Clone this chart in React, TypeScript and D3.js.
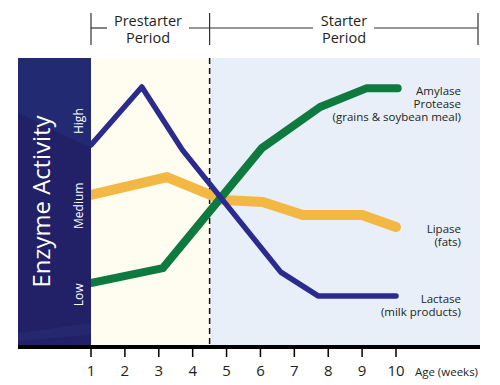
import React from "react";
import * as d3 from "d3";

// weeks on x, enzyme activity (0-100, relative) on y
const weekTicks = [1, 2, 3, 4, 5, 6, 7, 8, 9, 10];
const periodSplit = 4.5;

const lactaseWeeks = [1, 2.5, 3.7, 6.6, 7.7, 10];
const lactaseValues = [69.7, 89.9, 67.9, 25.4, 17.1, 17.1];

const lipaseWeeks = [1, 3.24, 4.9, 6.07, 7.25, 9.0, 10];
const lipaseValues = [52.3, 58.5, 50.5, 49.8, 45.3, 45.3, 41.1];

const amylaseWeeks = [1, 3.12, 6.04, 7.76, 9.14, 10.05];
const amylaseValues = [21.6, 26.8, 68.6, 82.9, 89.5, 89.5];

const levelLabels = ["High", "Medium", "Low"];
const levelValues = [78, 48.5, 17.5];

const W = 500;
const H = 385;
const PANEL_LEFT = 18;
const PLOT_RIGHT = 480;
const PLOT_TOP = 58;
const PLOT_BOTTOM = 345;
const FONT = "'Open Sans', 'Noto Sans', sans-serif";
const INK = "#231f20";

export default function App() {
  const x = d3.scaleLinear().domain([1, 10]).range([91, 396]);
  const y = d3.scaleLinear().domain([0, 100]).range([PLOT_BOTTOM, PLOT_TOP]);

  const line = d3
    .line<[number, number]>()
    .x((d) => x(d[0]))
    .y((d) => y(d[1]))
    .curve(d3.curveLinear);

  const series = [
    { weeks: lipaseWeeks, values: lipaseValues, color: "#f2b843", width: 10 },
    { weeks: amylaseWeeks, values: amylaseValues, color: "#0f7a3f", width: 8 },
    { weeks: lactaseWeeks, values: lactaseValues, color: "#2b2a8f", width: 5.5 },
  ];

  const x1 = x(1);
  const xSplit = x(periodSplit);

  return (
    <svg
      width={W}
      height={H}
      style={{ position: "absolute", left: 0, top: 0, background: "#fff" }}
      fontFamily={FONT}
    >
      {/* period backgrounds */}
      <rect x={x1} y={PLOT_TOP} width={xSplit - x1} height={PLOT_BOTTOM - PLOT_TOP} fill="#fffcf0" />
      <rect x={xSplit} y={PLOT_TOP} width={PLOT_RIGHT - xSplit} height={PLOT_BOTTOM - PLOT_TOP} fill="#e8eff8" />

      {/* dashed divider */}
      <line
        x1={xSplit}
        x2={xSplit}
        y1={PLOT_TOP}
        y2={PLOT_BOTTOM}
        stroke="#111"
        strokeWidth={1.5}
        strokeDasharray="6,4"
      />

      {/* series lines */}
      {series.map((s, i) => (
        <path
          key={i}
          d={line(s.weeks.map((w, j) => [w, s.values[j]]) as [number, number][]) || ""}
          fill="none"
          stroke={s.color}
          strokeWidth={s.width}
          strokeLinecap="round"
          strokeLinejoin="round"
        />
      ))}

      {/* left activity panel */}
      <rect x={PANEL_LEFT} y={PLOT_TOP} width={x1 - PANEL_LEFT} height={PLOT_BOTTOM - PLOT_TOP} fill="#222066" />
      <polygon
        points={`${PANEL_LEFT},${PLOT_TOP} ${x1},${PLOT_TOP} ${x1},${PLOT_TOP + 90} ${PANEL_LEFT},${PLOT_TOP + 55}`}
        fill="#222b72"
      />
      <polygon
        points={`${PANEL_LEFT},${PLOT_BOTTOM - 12} ${x1},${PLOT_BOTTOM - 22} ${x1},${PLOT_BOTTOM - 10} ${PANEL_LEFT},${PLOT_BOTTOM - 4}`}
        fill="#2a2f78"
        opacity={0.5}
      />
      <text
        transform={`translate(41,${y(50)}) rotate(-90)`}
        textAnchor="middle"
        dominantBaseline="central"
        fill="#fff"
        fontSize={23}
        textLength={172}
        lengthAdjust="spacingAndGlyphs"
      >
        Enzyme Activity
      </text>
      {levelLabels.map((l, i) => (
        <text
          key={l}
          transform={`translate(78,${y(levelValues[i])}) rotate(-90)`}
          textAnchor="middle"
          dominantBaseline="central"
          fill="#fff"
          fontSize={12}
        >
          {l}
        </text>
      ))}

      {/* x axis */}
      <rect x={PANEL_LEFT} y={PLOT_BOTTOM} width={PLOT_RIGHT - PANEL_LEFT} height={4} fill="#000" />
      {weekTicks.map((t) => (
        <g key={t} transform={`translate(${x(t)},0)`}>
          <line y1={PLOT_BOTTOM + 4} y2={PLOT_BOTTOM + 12} stroke="#000" strokeWidth={1.5} />
          <text y={376} textAnchor="middle" fontSize={15} fill={INK}>
            {t}
          </text>
        </g>
      ))}
      <text x={478} y={376} textAnchor="end" fontSize={11.5} fill={INK}>
        Age (weeks)
      </text>

      {/* series labels */}
      <g fontSize={11.5} fill={INK} textAnchor="end">
        <text x={461} y={95}>Amylase</text>
        <text x={461} y={108}>Protease</text>
        <text x={461} y={121}>(grains &amp; soybean meal)</text>
        <text x={461} y={233}>Lipase</text>
        <text x={461} y={246}>(fats)</text>
        <text x={461} y={303}>Lactase</text>
        <text x={461} y={316}>(milk products)</text>
      </g>

      {/* period brackets */}
      <g stroke="#333" strokeWidth={1.2}>
        <line x1={x1} x2={x1} y1={13} y2={45} />
        <line x1={xSplit} x2={xSplit} y1={13} y2={45} />
        <line x1={478} x2={478} y1={13} y2={45} />
        <line x1={x1} x2={x1 + 16} y1={28} y2={28} />
        <line x1={189} x2={313} y1={28} y2={28} />
        <line x1={374} x2={478} y1={28} y2={28} />
      </g>
      <g fontSize={14.5} fill={INK} textAnchor="middle">
        <text x={148} y={26}>Prestarter</text>
        <text x={148} y={43}>Period</text>
        <text x={344} y={26}>Starter</text>
        <text x={344} y={43}>Period</text>
      </g>
    </svg>
  );
}
